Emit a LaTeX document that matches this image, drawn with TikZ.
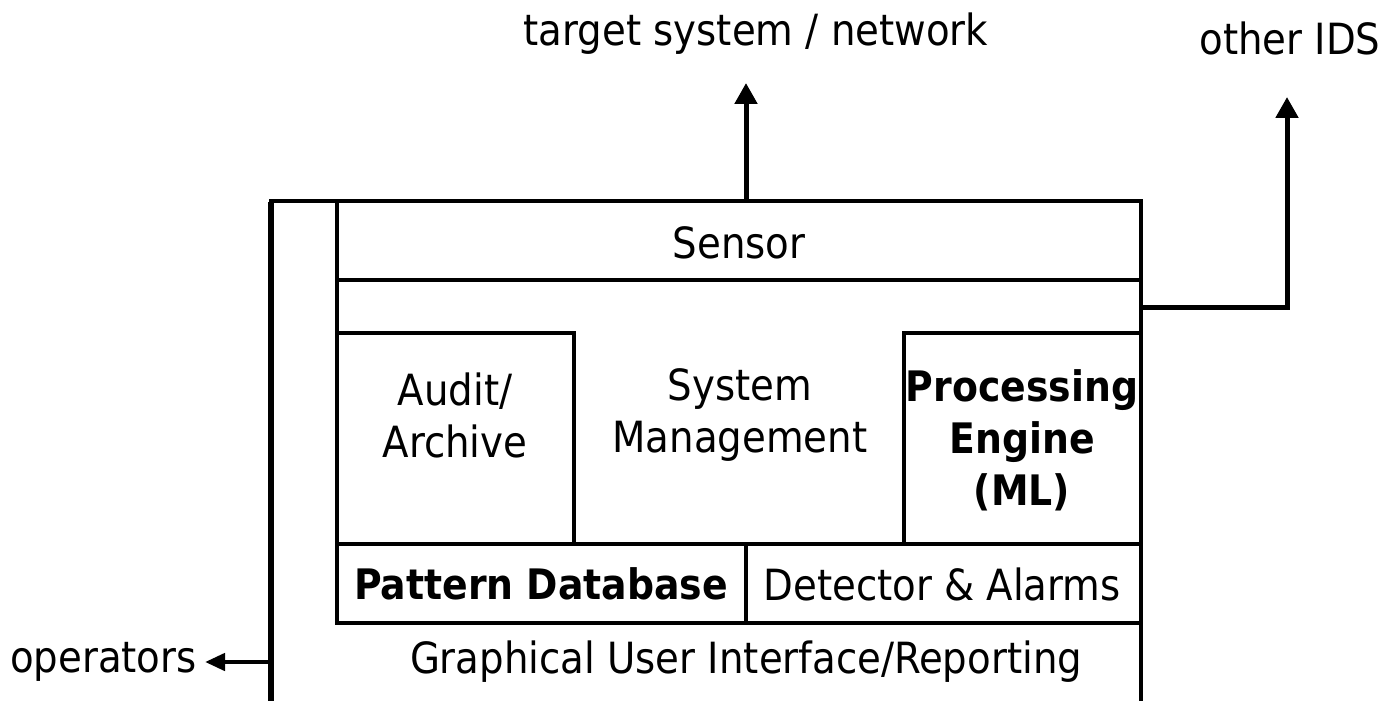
\documentclass[tikz,border=0pt]{standalone}
\usepackage{fontspec}
\setmainfont{DejaVu Sans Condensed}
\usetikzlibrary{arrows.meta}
\tikzset{
  lbl/.style={font=\fontsize{21.5}{26}\selectfont, inner sep=0pt, align=center},
  boldlbl/.style={lbl, font=\fontsize{21}{26}\selectfont\bfseries},
  frame/.style={draw=black, line width=2.25pt},
  arr/.style={line width=2.5pt, -{Triangle[length=10.5pt,width=11pt]}},
  smallarr/.style={line width=2.25pt, -{Triangle[length=10pt,width=8.5pt]}}
}
\begin{document}
\begin{tikzpicture}[x=0.5pt,y=-0.5pt]
\useasboundingbox (0,0) rectangle (1392,701);
% outer frame
\coordinate (outerBL) at (271,701);
\coordinate (outerTL) at (271,201);
\coordinate (outerTR) at (1141,201);
\coordinate (outerBR) at (1141,701);
\draw[frame, line join=miter] (outerBL) -- (outerTL) -- (outerTR) -- (outerBR);
\draw[line width=2.6pt] (outerBL) -- ([yshift=-0.5pt]outerTL);
% boxes
\draw[frame] (337,201) rectangle (1141,280);
\draw[frame] (337,280) rectangle (1141,544);
\draw[frame] (337,333) rectangle (574,544);
\draw[frame] (904,333) rectangle (1141,544);
\draw[frame] (337,544) rectangle (746,623);
\draw[frame] (746,544) rectangle (1141,623);
% labels
\node[lbl] (sensor) at (739,243) {Sensor};
\node[lbl] (audit) at (455,415) {Audit/\\Archive};
\node[lbl] (sysmgmt) at (740,415) {System\\Management};
\node[boldlbl] (proc) at (1022,440) {Processing\\Engine\\(ML)};
\node[boldlbl] (pattern) at (541,584) {Pattern Database};
\node[lbl] (detector) at (942,584) {Detector \& Alarms};
\node[lbl] (gui) at (746,662) {Graphical User Interface/Reporting};
\node[lbl, anchor=east] (operators) at (197,662) {operators};
\node[lbl] (target) at (756,34) {target system / network};
\node[lbl] (otherids) at (1290,38) {other IDS};
% connectors
\coordinate (sensorTop) at (746,201);
\coordinate (targetTip) at (746,83);
\draw[arr] (sensorTop) -- (targetTip);
\coordinate (idsStart) at (1141,307);
\coordinate (idsCorner) at (1287,307);
\coordinate (idsTip) at (1287,97);
\draw[arr] (idsStart) -- (idsCorner) -- (idsTip);
\coordinate (guiLeft) at (271,662);
\draw[smallarr] (guiLeft) -- ([xshift=4pt]operators.east);
\end{tikzpicture}
\end{document}
